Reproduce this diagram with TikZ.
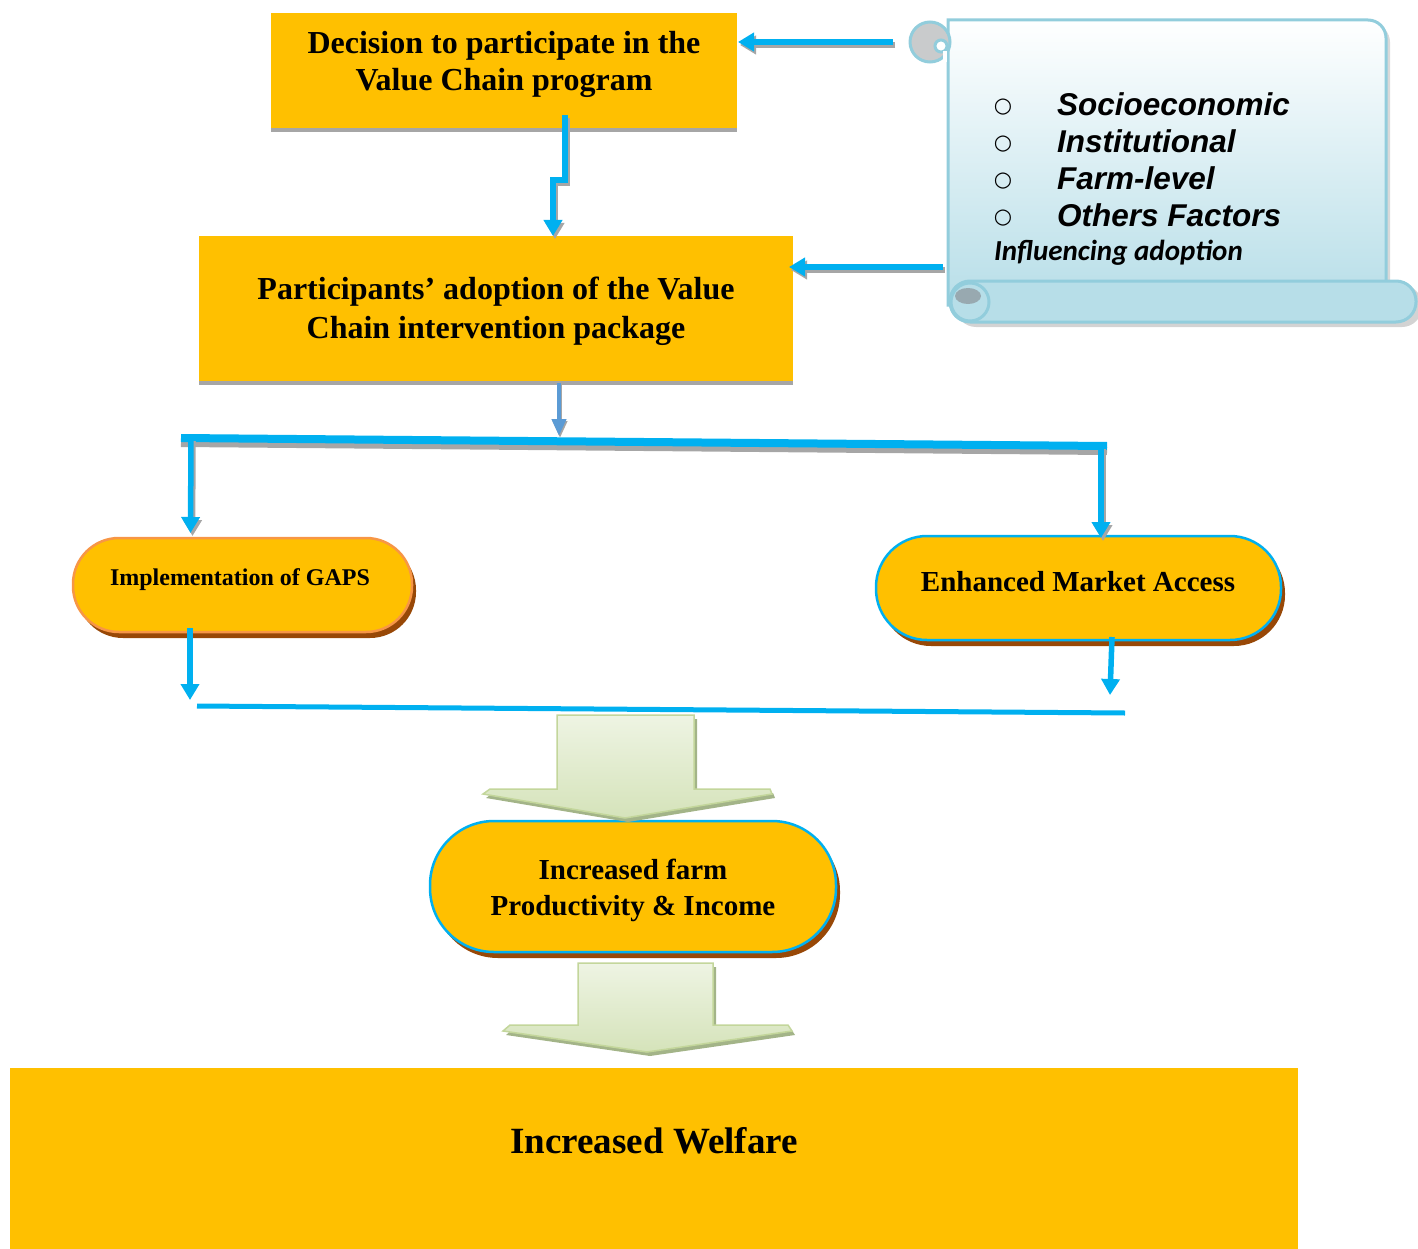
\documentclass[tikz,border=0pt]{standalone}
\usepackage{fontspec}
\setmainfont{Liberation Serif}
\newfontfamily\lsans{Liberation Sans}
\newfontfamily\carl{Carlito}
\newfontfamily\djv{DejaVu Sans}
\usetikzlibrary{arrows.meta,shadows,calc}
\definecolor{orgc}{HTML}{FFC000}
\definecolor{cyanc}{HTML}{00B0F0}
\definecolor{bluec}{HTML}{5B9BD5}
\definecolor{shgray}{HTML}{A6A6A6}
\definecolor{brownsh}{HTML}{984807}
\definecolor{orangeb}{HTML}{F79646}
\definecolor{scrollb}{HTML}{B7DEE8}
\definecolor{scrolll}{HTML}{92CDDC}
\definecolor{curlgray}{HTML}{C9CBCC}
\definecolor{curldark}{HTML}{98A9B0}
\definecolor{greenlt}{HTML}{EEF4E3}
\definecolor{greendk}{HTML}{D5E3BA}
\definecolor{greenb}{HTML}{C3D69B}
\definecolor{greensh}{HTML}{A3B488}
\begin{document}
\begin{tikzpicture}[x=1pt,y=-1pt,
  every node/.style={inner sep=0pt,outer sep=0pt},
  ybox/.style={rectangle,fill=orgc,draw=none,
    drop shadow={shadow xshift=0pt,shadow yshift=-4pt,fill=shgray,opacity=1}},
  pill/.style={rectangle,fill=orgc,line width=2.5pt,
    drop shadow={shadow xshift=4pt,shadow yshift=-6pt,fill=brownsh,opacity=1}},
  ttl/.style={align=center,font=\bfseries},
  cline/.style={draw=cyanc,line width=5.5pt,-{Triangle[width=18pt,length=16pt]}},
  clsh/.style={draw=shgray,line width=5.5pt,-{Triangle[width=18pt,length=16pt]},
    transform canvas={shift={(2,3)}}},
  bline/.style={draw=bluec,line width=4pt,-{Triangle[width=14pt,length=17pt]}},
  blsh/.style={draw=shgray,line width=4pt,-{Triangle[width=14pt,length=17pt]},
    transform canvas={shift={(1,2)}}},
  bar/.style={draw=cyanc,line width=8pt},
  barsh/.style={draw=shgray,line width=8pt,transform canvas={shift={(0,5)}}},
  mline/.style={draw=cyanc,line width=5pt},
  garrow/.style={top color=greenlt,bottom color=greendk,draw=greenb,line width=1.5pt},
  gash/.style={fill=greensh,draw=none,transform canvas={shift={(3,4)}}},
  sline/.style={draw=scrolll,line width=3pt},
  sitem/.style={anchor=west,font=\lsans\bfseries\itshape\fontsize{31.5}{36}\selectfont},
  sbul/.style={font=\djv\fontsize{21}{24}\selectfont}
]
\useasboundingbox (0,0) rectangle (1418,1249);

% ---------- scroll ----------
\fill[gray,opacity=0.3] (952,24) -- (1372,24) arc[start angle=-90,end angle=0,radius=18] -- (1390,300) -- (952,300) -- cycle;
\draw[sline,top color=white,bottom color=scrollb]
  (948,305) -- (948,20) -- (1368,20) arc[start angle=-90,end angle=0,radius=18] -- (1386,305) -- cycle;
\fill[gray,opacity=0.35,rounded corners=20] (956,285) rectangle (1422,327);
\draw[sline,fill=scrollb,rounded corners=20] (950,281) rectangle (1416,322);
\draw[sline,fill=scrollb] (970,302) circle[radius=19];
\fill[curldark] (968,296) ellipse[x radius=13,y radius=8];
\draw[sline,fill=curlgray] (930,42) circle[radius=20];
\draw[sline,fill=white] (941,46) circle[radius=6];
\fill[white] (943,51) rectangle (947,62);
\node[coordinate] (sa) at (893,42) {};
\node[coordinate] (sb) at (943,267) {};
\node[sbul] (u1) at (1003,107) {○};
\node[sbul] (u2) at (1003,144) {○};
\node[sbul] (u3) at (1003,181) {○};
\node[sbul] (u4) at (1003,218) {○};
\node[sitem] (s1) at (1057,104) {Socioeconomic};
\node[sitem] (s2) at (1057,141) {Institutional};
\node[sitem] (s3) at (1057,178) {Farm-level};
\node[sitem] (s4) at (1057,215) {Others Factors};
\node[anchor=west,font=\carl\bfseries\itshape\fontsize{29}{34}\selectfont] (s5) at (994,253) {Influencing adoption};

% ---------- boxes ----------
\node[ybox,minimum width=466pt,minimum height=115pt] (b1) at (504,70.5) {};
\node[ttl,font=\bfseries\fontsize{32}{37}\selectfont] (t1) at (504,64.5) {Decision to participate in the\\Value Chain program};
\node[ybox,minimum width=594pt,minimum height=145pt] (b2) at (496,308.5) {};
\node[ttl,font=\bfseries\fontsize{32}{39}\selectfont] (t2) at (496,311) {Participants’ adoption of the Value\\Chain intervention package};

\node[pill,draw=orangeb,minimum width=339pt,minimum height=94pt,rounded corners=46pt] (gaps) at (242.5,585) {};
\node[ttl,font=\bfseries\fontsize{24}{28}\selectfont] (t3) at (240,580) {Implementation of GAPS};
\node[pill,draw=cyanc,minimum width=405pt,minimum height=104pt,rounded corners=51pt] (ema) at (1078.5,588) {};
\node[ttl,font=\bfseries\fontsize{29}{34}\selectfont] (t4) at (1078,582) {Enhanced Market Access};
\node[pill,draw=cyanc,minimum width=406pt,minimum height=131pt,rounded corners=64pt] (farm) at (633,886.5) {};
\node[ttl,font=\bfseries\fontsize{29}{36}\selectfont] (t5) at (633,890) {Increased farm\\Productivity \& Income};
\node[rectangle,fill=orgc,minimum width=1288pt,minimum height=181pt] (wel) at (654,1158.5) {};
\node[ttl,font=\bfseries\fontsize{37}{42}\selectfont] (t6) at (654,1141) {Increased Welfare};

% ---------- connectors ----------
\foreach \s in {clsh,cline}
  \draw[\s] ($(b1.south)+(61,-13)$) -- ++(0,65) -- ++(-12,0) -- ($(b2.north)+(57,0)$);
\foreach \s in {clsh,cline}
  \draw[\s] (sa) -- ($(sa -| b1.east)+(1,0)$);
\foreach \s in {clsh,cline}
  \draw[\s] (sb) -- ($(sb -| b2.east)+(-4,0)$);
\foreach \s in {blsh,bline}
  \draw[\s] ($(b2.south)+(63,2)$) -- ++(0,53);

\coordinate (bl) at (181,438);
\coordinate (br) at (1107,446);
\draw[barsh] (bl) -- (br);
\draw[bar] (bl) -- (br);
\foreach \s in {clsh,cline}
  \draw[\s] ($(bl)+(10,0)$) -- ($(gaps.north)+(-52,-5)$);
\foreach \s in {clsh,cline}
  \draw[\s] ($(br)+(-6,0)$) -- ($(ema.north)+(22.5,2)$);

\draw[cline] ($(gaps.south)+(-52.5,-4)$) -- ++(0,72);
\draw[cline] ($(ema.south)+(33.5,-3)$) -- ($(ema.south)+(31.5,55)$);
\coordinate (ml) at (197,706);
\coordinate (mr) at (1125,713);
\draw[mline] (ml) -- (mr);

% ---------- green block arrows ----------
\fill[gash] (557,715) -- (694,715) -- (694,789) -- (770,789) -- (772,794) -- (625,818) -- (483,794) -- (490,789) -- (557,789) -- cycle;
\draw[garrow] (557,715) -- (694,715) -- (694,789) -- (770,789) -- (772,794) -- (625,818) -- (483,794) -- (490,789) -- (557,789) -- cycle;
\fill[gash] (578,963) -- (713,963) -- (713,1025) -- (788,1025) -- (792,1031) -- (647,1052) -- (503,1031) -- (510,1025) -- (578,1025) -- cycle;
\draw[garrow] (578,963) -- (713,963) -- (713,1025) -- (788,1025) -- (792,1031) -- (647,1052) -- (503,1031) -- (510,1025) -- (578,1025) -- cycle;
\end{tikzpicture}
\end{document}
